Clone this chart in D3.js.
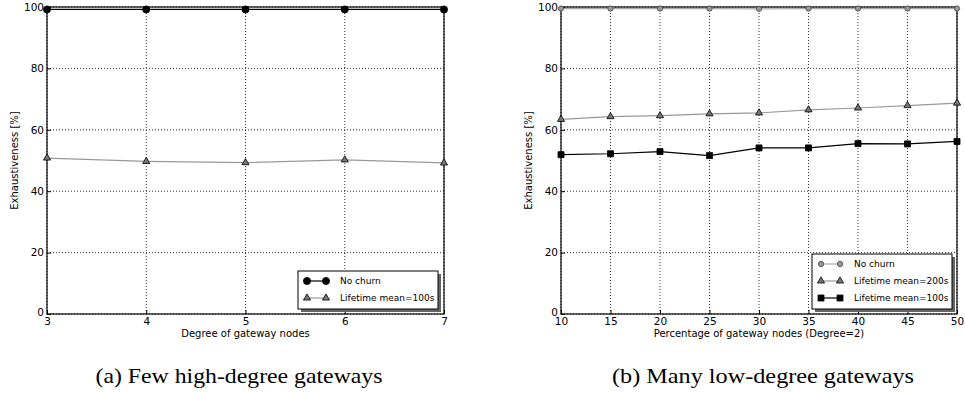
<!DOCTYPE html>
<html>
<head>
<meta charset="utf-8">
<script src="https://cdn.jsdelivr.net/npm/d3@7"></script>
<style>
body { margin: 0; background: #fff; }
svg text { font-family: "DejaVu Sans", sans-serif; }
svg text.caption { font-family: "Liberation Serif", "Times New Roman", serif; }
</style>
</head>
<body>
<svg id="chart" width="965" height="393"></svg>
<script>
// panel (a)
var degrees = [3, 4, 5, 6, 7];
var aNoChurn = [99.2, 99.2, 99.2, 99.2, 99.2];
var aLife100 = [50.8, 49.7, 49.3, 50.2, 49.2];

// panel (b)
var percents = [10, 15, 20, 25, 30, 35, 40, 45, 50];
var bNoChurn = [99.5, 99.5, 99.5, 99.5, 99.4, 99.5, 99.5, 99.5, 99.5];
var bLife200 = [63.4, 64.3, 64.6, 65.2, 65.5, 66.5, 67.1, 67.9, 68.7];
var bLife100 = [51.9, 52.2, 52.9, 51.6, 54.1, 54.1, 55.5, 55.4, 56.2];

var yTicks = [0, 20, 40, 60, 80, 100];

var svg = d3.select("#chart");

function panel(opt) {
    var x = d3.scaleLinear().domain(opt.xDomain).range([opt.x0, opt.x1]);
    var y = d3.scaleLinear().domain([0, 100]).range([314, 7]);
    var g = svg.append("g");

    // grid
    g.append("g").selectAll("line").data(opt.xTicks).enter().append("line")
        .attr("x1", function(d) { return x(d); }).attr("x2", function(d) { return x(d); })
        .attr("y1", y(0)).attr("y2", y(100))
        .attr("stroke", "#000").attr("stroke-width", 0.8).attr("stroke-dasharray", "1,2");
    g.append("g").selectAll("line").data(yTicks).enter().append("line")
        .attr("y1", function(d) { return y(d); }).attr("y2", function(d) { return y(d); })
        .attr("x1", opt.x0).attr("x2", opt.x1)
        .attr("stroke", "#000").attr("stroke-width", 0.8).attr("stroke-dasharray", "1,2");

    // axes (ticks inside)
    var xa = g.append("g").attr("transform", "translate(0," + y(0) + ")")
        .call(d3.axisBottom(x).tickValues(opt.xTicks).tickSize(-4).tickPadding(6).tickFormat(d3.format("d")));
    var ya = g.append("g").attr("transform", "translate(" + opt.x0 + ",0)")
        .call(d3.axisLeft(y).tickValues(yTicks).tickSize(-4).tickPadding(3));
    [xa, ya].forEach(function(a) {
        a.select(".domain").remove();
        a.selectAll("text").attr("font-size", 10.5).attr("fill", "#000");
        a.selectAll("line").attr("stroke", "#000");
    });
    xa.selectAll("text").attr("dy", "0.5em");
    ya.selectAll("text").filter(function(d) { return d === 0; }).attr("dy", "0.1em");

    // frame
    g.append("rect").attr("x", opt.x0).attr("y", y(100))
        .attr("width", opt.x1 - opt.x0).attr("height", y(0) - y(100))
        .attr("fill", "none").attr("stroke", "#000").attr("stroke-width", 1.2);

    var line = d3.line().x(function(d) { return x(d[0]); }).y(function(d) { return y(d[1]); });
    opt.series.forEach(function(s) {
        var pts = opt.xs.map(function(v, i) { return [v, s.values[i]]; });
        g.append("path").datum(pts).attr("d", line)
            .attr("fill", "none").attr("stroke", s.line).attr("stroke-width", 1.2);
        g.append("g").selectAll("path").data(pts).enter().append("path")
            .attr("transform", function(d) { return "translate(" + x(d[0]) + "," + y(d[1]) + ")"; })
            .attr("d", d3.symbol().type(s.symbol).size(s.size))
            .attr("fill", s.fill).attr("stroke", s.edge).attr("stroke-width", 0.8);
    });

    // axis labels
    g.append("text").attr("x", (opt.x0 + opt.x1) / 2).attr("y", 337)
        .attr("text-anchor", "middle").attr("font-size", 10).text(opt.xLabel);
    g.append("text").attr("transform", "translate(" + opt.yLabelX + "," + y(50) + ") rotate(-90)")
        .attr("text-anchor", "middle").attr("font-size", 10).text("Exhaustiveness [%]");

    // legend
    var L = opt.legend;
    var lg = g.append("g").attr("transform", "translate(" + L.x + "," + L.y + ")");
    var lh = opt.series.length * 17 + 4;
    lg.append("rect").attr("x", 3).attr("y", 3).attr("width", L.w).attr("height", lh).attr("fill", "#666");
    lg.append("rect").attr("x", 0).attr("y", 0).attr("width", L.w).attr("height", lh)
        .attr("fill", "#fff").attr("stroke", "#000").attr("stroke-width", 1);
    opt.series.forEach(function(s, i) {
        var cy = 10 + i * 17;
        lg.append("line").attr("x1", 9).attr("x2", 28).attr("y1", cy).attr("y2", cy)
            .attr("stroke", s.line).attr("stroke-width", 1.2);
        [9, 28].forEach(function(cx) {
            lg.append("path").attr("transform", "translate(" + cx + "," + cy + ")")
                .attr("d", d3.symbol().type(s.symbol).size(s.size))
                .attr("fill", s.fill).attr("stroke", s.edge).attr("stroke-width", 0.8);
        });
        lg.append("text").attr("x", 42).attr("y", cy).attr("dy", "0.35em")
            .attr("font-size", 9).text(s.name);
    });

    // caption
    svg.append("text").attr("class", "caption").attr("x", opt.capX).attr("y", 383)
        .attr("text-anchor", "middle").attr("font-size", 21)
        .attr("textLength", opt.capW).attr("lengthAdjust", "spacingAndGlyphs")
        .text(opt.caption);
}

panel({
    x0: 47, x1: 444, xDomain: [3, 7], xTicks: degrees, xs: degrees,
    xLabel: "Degree of gateway nodes", yLabelX: 18,
    legend: { x: 298, y: 271, w: 140 },
    caption: "(a) Few high-degree gateways", capX: 239, capW: 287,
    series: [
        { name: "No churn", values: aNoChurn, line: "#000", fill: "#000", edge: "#000", symbol: d3.symbolCircle, size: 40 },
        { name: "Lifetime mean=100s", values: aLife100, line: "#999", fill: "#777", edge: "#000", symbol: d3.symbolTriangle, size: 22 }
    ]
});

panel({
    x0: 561, x1: 957, xDomain: [10, 50], xTicks: percents, xs: percents,
    xLabel: "Percentage of gateway nodes (Degree=2)", yLabelX: 532,
    legend: { x: 812, y: 254, w: 140 },
    caption: "(b) Many low-degree gateways", capX: 763, capW: 302,
    series: [
        { name: "No churn", values: bNoChurn, line: "#aaa", fill: "#999", edge: "#444", symbol: d3.symbolCircle, size: 22 },
        { name: "Lifetime mean=200s", values: bLife200, line: "#999", fill: "#777", edge: "#000", symbol: d3.symbolTriangle, size: 22 },
        { name: "Lifetime mean=100s", values: bLife100, line: "#000", fill: "#000", edge: "#000", symbol: d3.symbolSquare, size: 36 }
    ]
});
</script>
</body>
</html>
